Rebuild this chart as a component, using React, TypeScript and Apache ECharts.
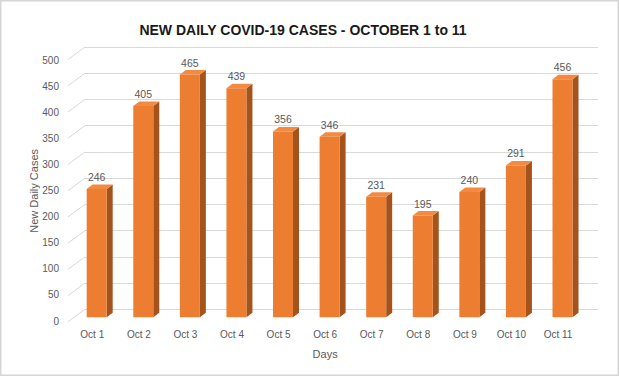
import React, { useEffect, useRef } from "react";
import * as echarts from "echarts";

const categories = ["Oct 1", "Oct 2", "Oct 3", "Oct 4", "Oct 5", "Oct 6", "Oct 7", "Oct 8", "Oct 9", "Oct 10", "Oct 11"];
const cases = [246, 405, 465, 439, 356, 346, 231, 195, 240, 291, 456];
const tickValues = [0, 50, 100, 150, 200, 250, 300, 350, 400, 450, 500];

const FRONT = "#ED7D31";
const TOP = "#F28A42";
const SIDE = "#A4531D";
const TEXT = "#595959";
const GRID = "#D9D9D9";
const FONT = '"Liberation Sans", Arial, sans-serif';

export default function App() {
  const ref = useRef<HTMLDivElement>(null);
  useEffect(() => {
    document.body.style.margin = "0";
    if (!ref.current) return;
    const chart = echarts.init(ref.current, null, { renderer: "svg" });
    const barW = 20;
    const dx = 6;
    const dy = 4.5;
    chart.setOption({
      animation: false,
      backgroundColor: "#ffffff",
      title: {
        text: "NEW DAILY COVID-19 CASES - OCTOBER 1 to 11",
        left: 298,
        top: 18,
        textAlign: "center",
        textStyle: {
          fontFamily: FONT,
          fontWeight: "bold",
          fontSize: 14,
          color: "#1a1a1a",
        },
      },
      graphic: [
        {
          type: "rect",
          shape: { x: 0.75, y: 0.75, width: 617.5, height: 374.5 },
          style: { fill: "none", stroke: "#D6D6D6", lineWidth: 1.5 },
          silent: true,
        },
      ],
      grid: [
        { left: 73.4, right: 34.2, top: 56.3, bottom: 59.7 },
        { left: 69, right: 38.7, top: 60.7, bottom: 56 },
        { left: 85, right: 22, top: 47, bottom: 67.7 },
      ],
      xAxis: [
        { gridIndex: 0, type: "category", data: categories, show: false },
        {
          gridIndex: 1,
          type: "category",
          data: categories,
          axisLine: { show: false },
          axisTick: { show: false },
          axisLabel: { color: TEXT, fontSize: 10, fontFamily: FONT, margin: 8, interval: 0 },
          name: "Days",
          nameLocation: "middle",
          nameGap: 27,
          nameMoveOverlap: false,
          nameTextStyle: { color: TEXT, fontSize: 11, fontFamily: FONT },
        },
        { gridIndex: 2, type: "value", min: 0, max: 1, show: false },
      ],
      yAxis: [
        { gridIndex: 0, type: "value", min: 0, max: 500, show: false },
        {
          gridIndex: 1,
          type: "value",
          min: 0,
          max: 500,
          interval: 50,
          axisLine: { show: false },
          axisTick: { show: false },
          splitLine: { show: false },
          axisLabel: { color: TEXT, fontSize: 10, fontFamily: FONT, margin: 10 },
          name: "New Daily Cases",
          nameLocation: "middle",
          nameGap: 30,
          nameMoveOverlap: false,
          nameTextStyle: { color: TEXT, fontSize: 11, fontFamily: FONT },
        },
        {
          gridIndex: 2,
          type: "value",
          min: 0,
          max: 500,
          interval: 50,
          axisLine: { show: false },
          axisTick: { show: false },
          axisLabel: { show: false },
          splitLine: { show: true, lineStyle: { color: GRID, width: 1 } },
        },
      ],
      series: [
        {
          type: "custom",
          name: "diagonals",
          xAxisIndex: 2,
          yAxisIndex: 2,
          silent: true,
          data: tickValues.map((v) => [0, v]),
          renderItem: (params: any, api: any) => {
            const p = api.coord([0, api.value(1)]);
            return {
              type: "line",
              shape: { x1: p[0] - 17, y1: p[1] + 12.5, x2: p[0], y2: p[1] },
              style: { stroke: GRID, lineWidth: 1 },
            };
          },
        },
        {
          type: "custom",
          name: "New Daily Cases",
          xAxisIndex: 0,
          yAxisIndex: 0,
          data: cases.map((v, i) => [i, v]),
          renderItem: (params: any, api: any) => {
            const i = api.value(0);
            const v = api.value(1);
            const t = api.coord([i, v]);
            const b = api.coord([i, 0]);
            const x0 = t[0] - barW / 2;
            const x1 = t[0] + barW / 2;
            return {
              type: "group",
              children: [
                {
                  type: "polygon",
                  shape: { points: [[x1, t[1]], [x1 + dx, t[1] - dy], [x1 + dx, b[1] - dy], [x1, b[1]]] },
                  style: { fill: SIDE },
                },
                {
                  type: "polygon",
                  shape: { points: [[x0, t[1]], [x1, t[1]], [x1 + dx, t[1] - dy], [x0 + dx, t[1] - dy]] },
                  style: { fill: TOP },
                },
                {
                  type: "rect",
                  shape: { x: x0, y: t[1], width: barW, height: b[1] - t[1] },
                  style: { fill: FRONT },
                },
                {
                  type: "text",
                  style: {
                    text: String(v),
                    x: t[0],
                    y: t[1] - 12,
                    align: "center",
                    verticalAlign: "middle",
                    fill: TEXT,
                    fontSize: 10.5,
                    fontFamily: FONT,
                  },
                },
              ],
            };
          },
        },
      ],
    });
    return () => chart.dispose();
  }, []);
  return <div ref={ref} style={{ width: 620, height: 377 }} />;
}
